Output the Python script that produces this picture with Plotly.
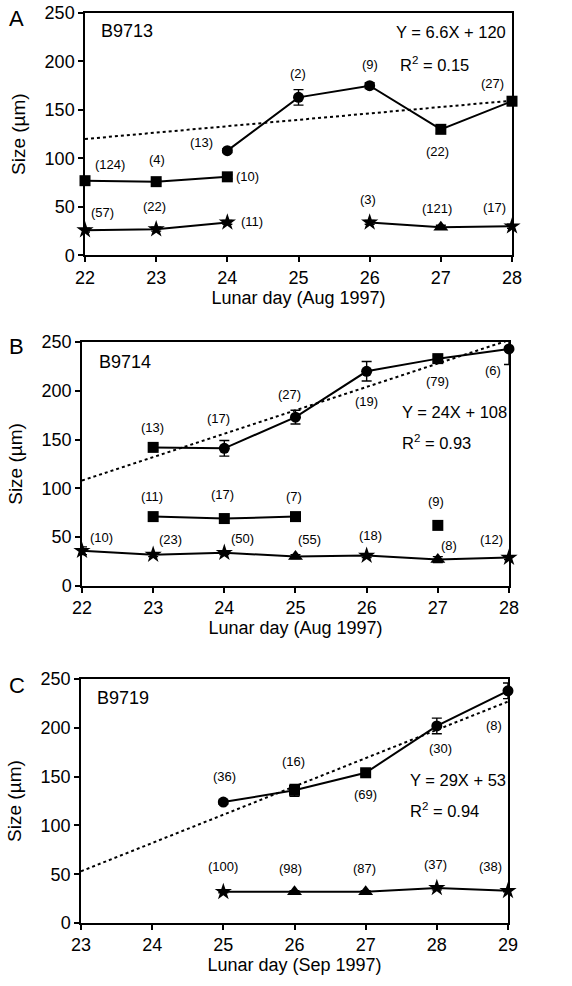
import plotly.graph_objects as go

# ---------------- DATA ----------------
# Panel A (B9713, Aug 1997)
a_days = [22, 23, 24, 25, 26, 27, 28]
a_upper = [None, None, 108, 163, 175, 130, 159]
a_upper_err = [0, 0, 2, 8, 3, 4, 4]
a_mid = [77, 76, 81, None, None, None, None]
a_mid_err = [3, 2, 2, 0, 0, 0, 0]
a_low = [26, 27, 34, None, 34, 29, 30]
a_low_err = [2, 2, 2, 0, 2, 2, 2]
a_fit = (6.6, 120)
a_n_labels = [
    ("(124)", 22.35, 94), ("(4)", 23.01, 99), ("(13)", 23.64, 116),
    ("(2)", 24.99, 188), ("(9)", 26.0, 197), ("(27)", 27.72, 177),
    ("(22)", 26.96, 107), ("(10)", 24.28, 81), ("(57)", 22.24, 44),
    ("(22)", 22.97, 50), ("(11)", 24.35, 35), ("(3)", 25.98, 58),
    ("(121)", 26.95, 48), ("(17)", 27.76, 49),
]

# Panel B (B9714, Aug 1997)
b_days = [22, 23, 24, 25, 26, 27, 28]
b_upper = [None, 142, 141, 173, 220, 233, 243]
b_upper_err = [0, 3, 8, 7, 10, 3, 16]
b_mid = [None, 71, 69, 71, None, None, None]
b_mid_extra_day = [27]
b_mid_extra = [62]
b_low = [36, 32, 34, 30, 31, 27, 29]
b_low_err = [4, 2, 2, 2, 2, 3, 2]
b_fit = (24, 108)
b_n_labels = [
    ("(13)", 22.99, 162), ("(17)", 23.92, 172), ("(27)", 24.92, 196),
    ("(19)", 26.0, 189), ("(79)", 27.0, 210), ("(6)", 27.78, 221),
    ("(11)", 22.99, 92), ("(17)", 23.98, 94), ("(7)", 24.98, 92),
    ("(9)", 26.97, 86), ("(10)", 22.28, 50), ("(23)", 23.24, 48),
    ("(50)", 24.26, 49), ("(55)", 25.2, 48), ("(18)", 26.06, 52),
    ("(8)", 27.16, 41), ("(12)", 27.75, 48),
]

# Panel C (B9719, Sep 1997)
c_days = [25, 26, 27, 28, 29]
c_upper = [124, 136, 154, 202, 238]
c_upper_err = [2, 6, 3, 8, 8]
c_low = [32, 32, 32, 36, 33]
c_low_err = [1, 1, 1, 2, 1]
c_fit = (29, 53)
c_n_labels = [
    ("(36)", 25.02, 150), ("(16)", 25.99, 166), ("(69)", 27.0, 132),
    ("(30)", 28.05, 179), ("(8)", 28.8, 202), ("(100)", 24.99, 58),
    ("(98)", 25.94, 56), ("(87)", 26.98, 56), ("(37)", 27.98, 60),
    ("(38)", 28.76, 58),
]

strain_names = ["B9713", "B9714", "B9719"]
equations = ["Y = 6.6X + 120", "Y = 24X + 108", "Y = 29X + 53"]
r2_values = ["0.15", "0.93", "0.94"]
x_titles = ["Lunar day (Aug 1997)", "Lunar day (Aug 1997)", "Lunar day (Sep 1997)"]
x_ranges = [(22, 28), (22, 28), (23, 29)]
panel_letters = ["A", "B", "C"]

# ---------------- STYLE ----------------
FONT = "Liberation Sans, Arial, Helvetica, sans-serif"
BLACK = "#000000"

# marker shapes (style) per point
a_upper_sym = ["circle", "circle", "circle", "circle", "circle", "square", "square"]
a_low_sym = ["star", "star", "star", "star", "star", "triangle-up", "star"]
b_upper_sym = ["circle", "square", "circle", "circle", "circle", "square", "circle"]
b_low_sym = ["star", "star", "star", "triangle-up", "star", "triangle-up", "star"]
c_upper_sym = ["circle", "square", "square", "circle", "circle"]
c_low_sym = ["star", "triangle-up", "triangle-up", "star", "star"]

fig = go.Figure()


def add_series(x, y, err, sym, xa, ya, size=11):
    fig.add_trace(go.Scatter(
        x=x, y=y, mode="lines+markers", xaxis=xa, yaxis=ya,
        connectgaps=False, cliponaxis=False,
        line=dict(color=BLACK, width=2),
        marker=dict(symbol=sym, size=size, color=BLACK),
        error_y=dict(type="data", array=err, visible=True, color=BLACK,
                     thickness=1.4, width=5) if err is not None else None,
        showlegend=False, hoverinfo="x+y",
    ))


def add_fit(fit, xr, xa, ya):
    slope, intercept = fit
    xs = [xr[0], xr[1]]
    ys = [intercept + slope * (v - xr[0]) for v in xs]
    fig.add_trace(go.Scatter(
        x=xs, y=ys, mode="lines", xaxis=xa, yaxis=ya,
        line=dict(color=BLACK, width=2, dash="dot"),
        showlegend=False, hoverinfo="skip", cliponaxis=True,
    ))


# Panel A
add_fit(a_fit, x_ranges[0], "x", "y")
add_series(a_days, a_upper, a_upper_err, a_upper_sym, "x", "y")
add_series(a_days, a_mid, a_mid_err, "square", "x", "y")
add_series(a_days, a_low, a_low_err, a_low_sym, "x", "y", size=13)

# Panel B
add_fit(b_fit, x_ranges[1], "x2", "y2")
add_series(b_days, b_upper, b_upper_err, b_upper_sym, "x2", "y2")
add_series(b_days, b_mid, None, "square", "x2", "y2")
add_series(b_mid_extra_day, b_mid_extra, None, "square", "x2", "y2")
add_series(b_days, b_low, b_low_err, b_low_sym, "x2", "y2", size=13)

# Panel C
add_fit(c_fit, x_ranges[2], "x3", "y3")
add_series(c_days, c_upper, c_upper_err, c_upper_sym, "x3", "y3")
add_series(c_days, c_low, c_low_err, c_low_sym, "x3", "y3", size=13)

annotations = []
for i, labels in enumerate([a_n_labels, b_n_labels, c_n_labels]):
    sfx = "" if i == 0 else str(i + 1)
    for txt, xv, yv in labels:
        annotations.append(dict(text=txt, x=xv, y=yv, xref="x" + sfx, yref="y" + sfx,
                                showarrow=False, font=dict(size=13, family=FONT, color=BLACK)))

strain_pos = [(22.2, 231), (22.21, 230), (23.2, 230.5)]
eq_pos = [(27.94, 230, "right"), (26.47, 178, "left"), (27.59, 147, "left")]
r2_pos = [(26.4, 197), (26.47, 147), (27.59, 116)]
letter_y = [0.9945, 0.633, 0.2614]
for i in range(3):
    sfx = "" if i == 0 else str(i + 1)
    annotations.append(dict(text=strain_names[i], x=strain_pos[i][0], y=strain_pos[i][1],
                            xref="x" + sfx, yref="y" + sfx, xanchor="left", showarrow=False,
                            font=dict(size=18, family=FONT, color=BLACK)))
    annotations.append(dict(text=equations[i], x=eq_pos[i][0], y=eq_pos[i][1],
                            xref="x" + sfx, yref="y" + sfx, xanchor=eq_pos[i][2], showarrow=False,
                            font=dict(size=16.5, family=FONT, color=BLACK)))
    annotations.append(dict(text="R<sup>2</sup> = " + r2_values[i], x=r2_pos[i][0], y=r2_pos[i][1],
                            xref="x" + sfx, yref="y" + sfx, xanchor="left", showarrow=False,
                            font=dict(size=16.5, family=FONT, color=BLACK)))
    annotations.append(dict(text=panel_letters[i], x=-0.1485, y=letter_y[i], xref="paper",
                            yref="paper", xanchor="center", yanchor="middle",
                            showarrow=False, font=dict(size=22, family=FONT, color=BLACK)))

x_domains = [[0.0093, 1.0], [0.0023, 0.993], [0.0, 0.9907]]
y_domains = [[0.7337, 1.0], [0.3705, 0.6384], [0.0, 0.268]]

layout = dict(
    width=572, height=986,
    margin=dict(l=81, r=60, t=12.5, b=63, autoexpand=False),
    paper_bgcolor="white", plot_bgcolor="white",
    font=dict(family=FONT, color=BLACK),
    annotations=annotations,
    showlegend=False,
)
for i in range(3):
    sfx = "" if i == 0 else str(i + 1)
    layout["xaxis" + sfx] = dict(
        domain=x_domains[i], range=list(x_ranges[i]), anchor="y" + sfx,
        dtick=1, ticks="outside", ticklen=5, tickwidth=1.5, tickcolor=BLACK,
        showline=True, linecolor=BLACK, linewidth=1.5, mirror=True,
        showgrid=False, zeroline=False, automargin=False,
        tickfont=dict(size=18, family=FONT, color=BLACK),
        title=dict(text=x_titles[i], font=dict(size=18, family=FONT, color=BLACK), standoff=4),
    )
    layout["yaxis" + sfx] = dict(
        domain=y_domains[i], range=[0, 250], anchor="x" + sfx,
        dtick=50, ticks="outside", ticklen=5, tickwidth=1.5, tickcolor=BLACK,
        showline=True, linecolor=BLACK, linewidth=1.5, mirror=True,
        showgrid=False, zeroline=False, automargin=False, ticklabeloverflow="allow",
        tickfont=dict(size=18, family=FONT, color=BLACK),
        title=dict(text="Size (µm)", font=dict(size=19, family=FONT, color=BLACK), standoff=14),
    )

fig.update_layout(**layout)
fig.write_html("out.html", config={"displayModeBar": False},
               post_script="document.body.style.margin='0px';")
